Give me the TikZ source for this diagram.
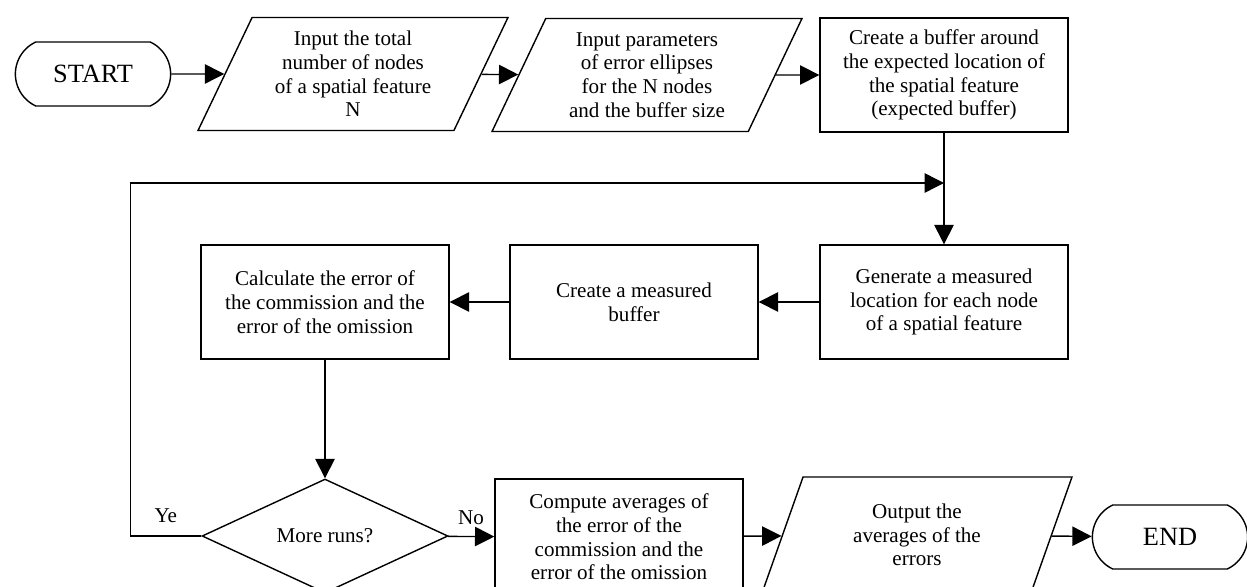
\documentclass[tikz,border=0pt]{standalone}
\usepackage{fontspec}
\setmainfont{Liberation Serif}
\usetikzlibrary{shapes.geometric,shapes.misc,arrows.meta}

\tikzset{
  >={Triangle[length=11pt,width=11pt]},
  thickline/.style={line width=0.8pt},
  term/.style={rounded rectangle, rounded rectangle arc length=130, draw,
    minimum width=3.34cm, minimum height=1.28cm,
    font=\fontsize{15}{17}\selectfont},
  proc/.style={rectangle, draw, align=center,
    minimum width=4.96cm, minimum height=2.28cm},
  io/.style={trapezium, trapezium left angle=61, trapezium right angle=119,
    trapezium stretches body, draw, align=center,
    minimum width=6.2cm, minimum height=2.26cm},
  decision/.style={diamond, draw, aspect=2.16,
    minimum width=4.92cm, minimum height=2.28cm},
}

\begin{document}
\begin{tikzpicture}[x=0.02cm, y=-0.02cm, thickline,
    font=\fontsize{12}{13.5}\selectfont]
  \useasboundingbox (0,0) rectangle (1247,587);

  \node [term] (start) at (93,74) {START};
  \node [io] (input) at (353,74)
    {Input the total\\number of nodes\\of a spatial feature\\N};
  \node [io] (params) at (647,75)
    {Input parameters\\of error ellipses\\for the N nodes\\and the buffer size};
  \node [proc] (expbuf) at (944,75)
    {Create a buffer around\\the expected location of\\the spatial feature\\(expected buffer)};
  \node [proc] (genloc) at (944,302)
    {Generate a measured\\location for each node\\of a spatial feature};
  \node [proc] (measbuf) at (634,302) {Create a measured\\buffer};
  \node [proc] (calcerr) at (325,302)
    {Calculate the error of\\the commission and the\\error of the omission};
  \node [decision] (more) at (325,536) {More runs?};
  \node [proc, minimum height=2.32cm] (avg) at (619,537)
    {Compute averages of\\the error of the\\commission and the\\error of the omission};
  \node [io, minimum height=2.32cm] (output) at (917,535)
    {Output the\\averages of the\\errors};
  \node [term] (stop) at (1170,537) {END};
  \coordinate (loop) at (944,183);

  % main flow
  \draw [->] (start) -- (input);
  \draw [->] (input) -- (params);
  \draw [->] (params) -- (expbuf);
  \draw [->] (expbuf) -- (genloc);
  \draw [->] (genloc) -- (measbuf);
  \draw [->] (measbuf) -- (calcerr);
  \draw [->] (calcerr) -- (more);
  \draw [->] (more) -- node [above=3pt] {No} (avg);
  \draw [->] (avg) -- (output);
  \draw [->] (output) -- (stop);

  % loop back
  \draw [->] (more.west) -- node [above=4pt] {Ye} ++(-71,0) |- (loop);
\end{tikzpicture}
\end{document}
